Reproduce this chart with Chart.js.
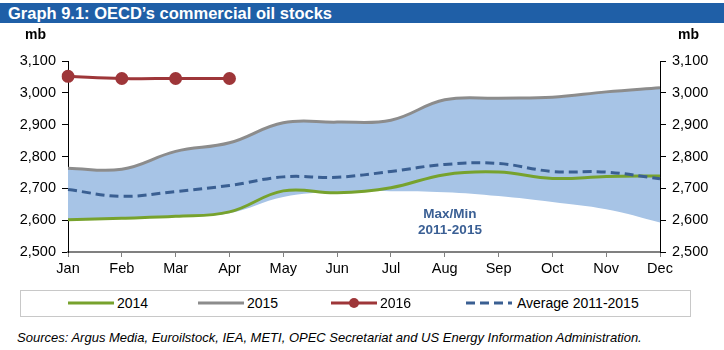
<!DOCTYPE html>
<html>
<head>
<meta charset="utf-8">
<script src="https://cdn.jsdelivr.net/npm/chart.js@4"></script>
<style>
  body { margin: 0; background: #fff; font-family: Arial, "Liberation Sans", sans-serif; }
  #wrap { position: relative; width: 724px; height: 350px; overflow: hidden; }
  #title { position: absolute; left: 0; top: 3px; width: 724px; height: 20px; background: #1F5FA7;
           color: #fff; font-weight: bold; font-size: 16.5px; line-height: 20px; padding-left: 8px; box-sizing: border-box; }
  .unit { position: absolute; top: 26px; font-weight: bold; font-size: 14px; }
  #chartBox { position: absolute; left: 0; top: 0; width: 724px; height: 285px; }
  #bandLabel { position: absolute; left: 400px; top: 206px; width: 100px; text-align: center;
               color: #3A5F94; font-weight: bold; font-size: 13.5px; line-height: 16px; }
  #legend { position: absolute; left: 20px; top: 290px; width: 671px; height: 27px; border: 1px solid #C8C8C8; box-sizing: border-box; }
  .item { position: absolute; top: 4px; font-size: 14px; line-height: 17px; }
  .item svg { position: absolute; left: 0; top: 3px; }
  .item span { position: absolute; white-space: nowrap; }
  #sources { position: absolute; left: 17px; top: 330px; font-style: italic; font-size: 13px; white-space: nowrap; }
</style>
</head>
<body>
<div id="wrap">
  <div id="chartBox"><canvas id="c"></canvas></div>
  <div id="title">Graph 9.1: OECD’s commercial oil stocks</div>
  <div class="unit" style="left:25px">mb</div>
  <div class="unit" style="left:678px">mb</div>
  <div id="bandLabel">Max/Min<br>2011-2015</div>
  <div id="legend"></div>
  <div id="sources">Sources: Argus Media, Euroilstock, IEA, METI, OPEC Secretariat and US Energy Information Administration.</div>
</div>
<script>
const months = ['Jan', 'Feb', 'Mar', 'Apr', 'May', 'Jun', 'Jul', 'Aug', 'Sep', 'Oct', 'Nov', 'Dec'];
const stocks2014 = [2601, 2606, 2612, 2626, 2692, 2686, 2702, 2743, 2751, 2731, 2737, 2739];
const stocks2015 = [2763, 2760, 2816, 2843, 2906, 2908, 2914, 2978, 2983, 2986, 3003, 3016];
const stocks2016 = [3052, 3045, 3045, 3045, null, null, null, null, null, null, null, null];
const avg1115 = [2696, 2675, 2690, 2709, 2736, 2735, 2753, 2775, 2778, 2753, 2751, 2730];
const band1115Max = [2760, 2758, 2814, 2841, 2904, 2906, 2912, 2976, 2981, 2984, 3001, 3014];
const band1115Min = [2601, 2606, 2611, 2622, 2673, 2689, 2691, 2688, 2676, 2657, 2634, 2593];

const FONT = 'Arial, "Liberation Sans", sans-serif';
const GREEN = '#77A22D', GREY = '#8C8C8C', RED = '#9E3639', BLUE = '#3A5F92', BAND = '#A7C4E6';

const fmt = v => v.toLocaleString('en-US');

new Chart(document.getElementById('c'), {
  type: 'line',
  data: {
    labels: months,
    datasets: [
      { label: '2016', data: stocks2016, borderColor: RED, backgroundColor: RED, borderWidth: 3,
        pointRadius: 6.5, pointBorderWidth: 0, tension: 0.4, fill: false, spanGaps: false },
      { label: 'Average 2011-2015', data: avg1115, borderColor: BLUE, borderWidth: 3, borderDash: [9, 5],
        pointRadius: 0, tension: 0.4, fill: false },
      { label: '2014', data: stocks2014, borderColor: GREEN, borderWidth: 3, pointRadius: 0, tension: 0.4, fill: false },
      { label: '2015', data: stocks2015, borderColor: GREY, borderWidth: 3, pointRadius: 0, tension: 0.4, fill: false },
      { label: 'max', data: band1115Max, borderWidth: 0, borderColor: 'rgba(0,0,0,0)', backgroundColor: BAND,
        pointRadius: 0, tension: 0.4, fill: '+1' },
      { label: 'min', data: band1115Min, borderWidth: 0, borderColor: 'rgba(0,0,0,0)', pointRadius: 0, tension: 0.4, fill: false }
    ]
  },
  options: {
    responsive: true,
    maintainAspectRatio: false,
    animation: false,
    layout: { padding: { top: 61, left: 0, right: 0, bottom: 0 } },
    plugins: {
      legend: { display: false },
      tooltip: { enabled: false },
      filler: { drawTime: 'beforeDatasetsDraw' }
    },
    scales: {
      x: {
        offset: false,
        grid: { drawOnChartArea: false, drawTicks: true, tickLength: 5, color: '#808080', lineWidth: 1 },
        border: { display: true, color: '#808080', width: 2 },
        ticks: { color: '#000', font: { family: FONT, size: 14.5 }, padding: 3, maxRotation: 0, autoSkip: false },
        afterFit: s => { s.height = 33; }
      },
      y: {
        position: 'left', min: 2500, max: 3100,
        grid: { drawOnChartArea: false, drawTicks: true, tickLength: 6, color: '#000' },
        border: { display: true, color: '#000', width: 1 },
        ticks: { stepSize: 100, color: '#000', font: { family: FONT, size: 14.5 }, padding: 6, callback: fmt },
        afterFit: s => { s.width = 68; }
      },
      y2: {
        position: 'right', min: 2500, max: 3100,
        grid: { drawOnChartArea: false, drawTicks: true, tickLength: 6, color: '#000' },
        border: { display: true, color: '#000', width: 1 },
        ticks: { stepSize: 100, color: '#000', font: { family: FONT, size: 14.5 }, padding: 6, callback: fmt },
        afterFit: s => { s.width = 64; }
      }
    }
  }
});

// legend
const legendItems = [
  { text: '2014', color: GREEN, x: 47 },
  { text: '2015', color: GREY, x: 177 },
  { text: '2016', color: RED, x: 310, dot: true },
  { text: 'Average 2011-2015', color: BLUE, x: 445, dash: true }
];
const legend = document.getElementById('legend');
legendItems.forEach(it => {
  const d = document.createElement('div');
  d.className = 'item';
  d.style.left = it.x + 'px';
  let svg = `<svg width="46" height="10"><line x1="0" y1="5" x2="46" y2="5" stroke="${it.color}" stroke-width="3"` +
            (it.dash ? ' stroke-dasharray="9,5"' : '') + '/>';
  if (it.dot) svg += `<circle cx="23" cy="5" r="5" fill="${it.color}"/>`;
  svg += '</svg>';
  d.innerHTML = svg + `<span style="left:${it.dash ? 51 : 49}px">${it.text}</span>`;
  legend.appendChild(d);
});
</script>
</body>
</html>
